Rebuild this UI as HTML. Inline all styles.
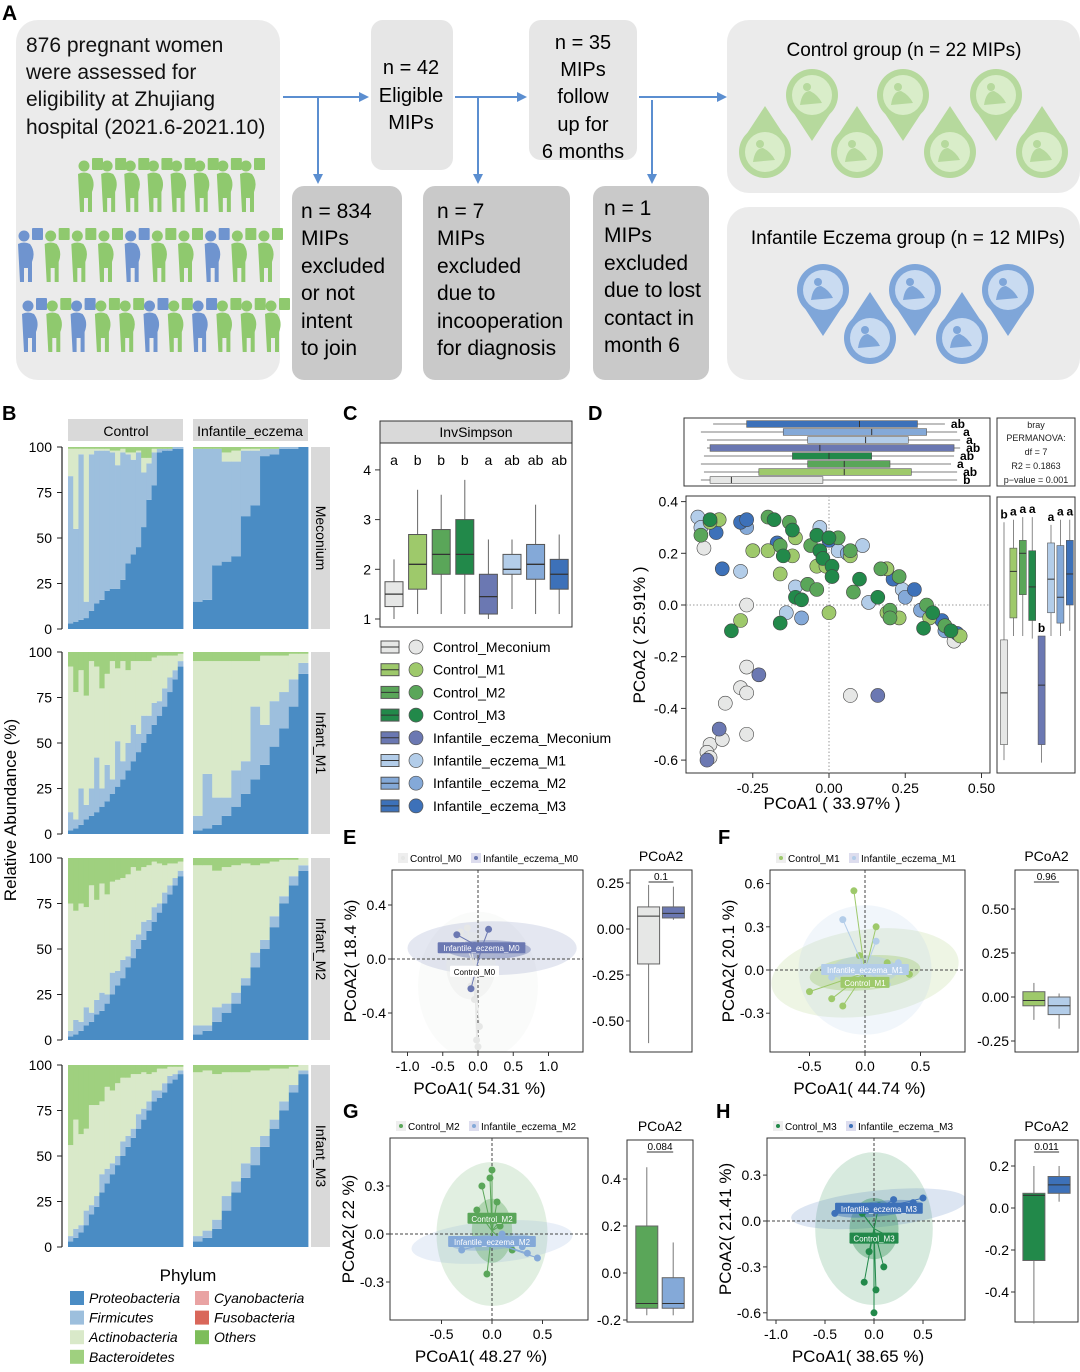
<!DOCTYPE html>
<html><head><meta charset="utf-8"><style>
body{margin:0;background:#fff;}
svg{display:block;font-family:"Liberation Sans",Arial,sans-serif;}
</style></head><body>
<svg id="fig" xmlns="http://www.w3.org/2000/svg" width="1080" height="1372" viewBox="0 0 1080 1372">
<defs><marker id="ah" markerWidth="10" markerHeight="10" refX="8" refY="5" orient="auto" markerUnits="userSpaceOnUse"><path d="M0,0 L10,5 L0,10 z" fill="#5b8ed0"/></marker></defs>
<g id="panelA">
<text x="2" y="20" font-size="21" font-weight="bold">A</text>
<rect x="16" y="20" width="264" height="360" rx="22" fill="#ebebeb"/>
<g font-size="21" fill="#111">
<text x="26" y="52">876 pregnant women</text><text x="26" y="79">were assessed for</text><text x="26" y="106">eligibility at Zhujiang</text><text x="26" y="134">hospital (2021.6-2021.10)</text></g>
<g id="people"></g>
<rect x="371" y="20" width="82" height="150" rx="12" fill="#e6e6e6"/>
<g font-size="20" text-anchor="middle"><text x="411" y="74">n = 42</text><text x="411" y="102">Eligible</text><text x="411" y="129">MIPs</text></g>
<rect x="529" y="20" width="108" height="140" rx="12" fill="#e6e6e6"/>
<g font-size="20" text-anchor="middle"><text x="583" y="49">n = 35</text><text x="583" y="76">MIPs</text><text x="583" y="103">follow</text><text x="583" y="131">up for</text><text x="583" y="158">6 months</text></g>
<rect x="292" y="186" width="110" height="194" rx="12" fill="#c9c9c9"/>
<g font-size="21"><text x="301" y="218">n = 834</text><text x="301" y="245">MIPs</text><text x="301" y="273">excluded</text><text x="301" y="300">or not</text><text x="301" y="328">intent</text><text x="301" y="355">to join</text></g>
<rect x="423" y="186" width="147" height="194" rx="12" fill="#c9c9c9"/>
<g font-size="21"><text x="437" y="218">n = 7</text><text x="437" y="245">MIPs</text><text x="437" y="273">excluded</text><text x="437" y="300">due to</text><text x="437" y="328">incooperation</text><text x="437" y="355">for diagnosis</text></g>
<rect x="593" y="186" width="116" height="194" rx="12" fill="#c9c9c9"/>
<g font-size="21"><text x="604" y="215">n = 1</text><text x="604" y="242">MIPs</text><text x="604" y="270">excluded</text><text x="604" y="297">due to lost</text><text x="604" y="325">contact in</text><text x="604" y="352">month 6</text></g>
<g stroke="#5b8ed0" stroke-width="2" fill="none">
<line x1="283" y1="97" x2="367" y2="97" marker-end="url(#ah)"/><line x1="318" y1="97" x2="318" y2="182" marker-end="url(#ah)"/>
<line x1="455" y1="97" x2="525" y2="97" marker-end="url(#ah)"/><line x1="478" y1="97" x2="478" y2="182" marker-end="url(#ah)"/>
<line x1="639" y1="97" x2="725" y2="97" marker-end="url(#ah)"/><line x1="652" y1="100" x2="652" y2="182" marker-end="url(#ah)"/>
</g>
<rect x="727" y="20" width="353" height="173" rx="22" fill="#ebebeb"/>
<text x="904" y="56" font-size="19" text-anchor="middle">Control group (n = 22 MIPs)</text>
<rect x="727" y="207" width="353" height="173" rx="22" fill="#ebebeb"/>
<text x="908" y="244" font-size="19" text-anchor="middle">Infantile Eczema group (n = 12 MIPs)</text>
<g id="drops"></g>
</g>
<g id="panelB">
<text x="2" y="420" font-size="20" font-weight="bold">B</text>
<text transform="translate(16,810) rotate(-90)" font-size="17" text-anchor="middle">Relative Abundance (%)</text>
<rect x="68" y="419" width="115" height="22" fill="#d9d9d9"/>
<text x="126" y="436" font-size="14" text-anchor="middle">Control</text>
<rect x="193" y="419" width="115" height="22" fill="#d9d9d9"/>
<text x="250" y="436" font-size="14" text-anchor="middle">Infantile_eczema</text>
<g id="bbars"></g>
<text x="188" y="1281" font-size="17" text-anchor="middle">Phylum</text>
<g id="blegend"></g>
</g>
<g id="panelC">
<text x="343" y="420" font-size="20" font-weight="bold">C</text>
<rect x="380" y="421" width="192" height="22" fill="#d9d9d9" stroke="#333" stroke-width="1"/>
<text x="476" y="437" font-size="14" text-anchor="middle">InvSimpson</text>
<g id="cplot"></g>
<g id="clegend"></g>
</g>
<g id="panelD">
<text x="588" y="420" font-size="20" font-weight="bold">D</text>
<g id="dplot"></g>
<text transform="translate(645,635) rotate(-90)" font-size="17" text-anchor="middle">PCoA2 ( 25.91% )</text>
<text x="832" y="809" font-size="17" text-anchor="middle">PCoA1 ( 33.97% )</text>
<rect x="997" y="418" width="78" height="68" fill="#fff" stroke="#333"/>
<g font-size="9" text-anchor="middle" fill="#222"><text x="1036" y="428">bray</text><text x="1036" y="441">PERMANOVA:</text><text x="1036" y="455">df = 7</text><text x="1036" y="469">R2 = 0.1863</text><text x="1036" y="483">p−value = 0.001</text></g>
</g>
<g id="panelsEH"></g>
</svg>
<script>
const NS='http://www.w3.org/2000/svg';
function mk(tag,attrs,parent,name){const e=document.createElementNS(NS,tag);for(const k in attrs)e.setAttribute(k,attrs[k]);


parent.appendChild(e);return e;}
function tx(parent,x,y,s,size,name,anchor,extra){const t=mk('text',Object.assign({x:x,y:y,'font-size':size,'text-anchor':anchor||'start'},extra||{}),parent,name);t.textContent=s;return t;}

// ---------- Panel A decorations ----------
const people=document.getElementById('people');
const rows=[[78,240,8,158],[18,258,10,228],[22,265,11,298]];
const blueIdx=[[],[0,4,7],[0,2,5,7]];
rows.forEach((r,ri)=>{const step=(r[1]-r[0])/(r[2]-1);for(let i=0;i<r[2];i++){const x=r[0]+i*step,y=r[3];const col=blueIdx[ri].includes(i)?'#6f94cf':'#8fc96e';
const g=mk('g',{},people,'woman-icon');
mk('circle',{cx:x+6,cy:y+8,r:5.5,fill:col},g,'woman-head');
mk('path',{d:`M${x},${y+16} q6,-3 12,0 q6,8 2,18 l0,20 l-4,0 l0,-14 l-4,0 l0,14 l-4,0 z`,fill:col},g,'woman-body');
mk('rect',{x:x+14,y:y,width:11,height:12,fill:col,rx:1},g,'woman-sign');}});
const drops=document.getElementById('drops');
function drop(cx,cy,down,fill,inner){const r=26;const g=mk('g',{},drops,'group-marker');
const tip=down?cy+r+20:cy-r-20;mk('path',{d:`M${cx-r*0.7},${cy+(down?r*0.7:-r*0.7)} L${cx},${tip} L${cx+r*0.7},${cy+(down?r*0.7:-r*0.7)} z`,fill:fill},g,'marker-tip');
mk('circle',{cx:cx,cy:cy,r:r,fill:fill},g,'marker-circle');mk('circle',{cx:cx,cy:cy,r:r-6,fill:inner},g,'marker-inner');
mk('circle',{cx:cx-5,cy:cy-8,r:4,fill:fill},g,'mother-head');mk('path',{d:`M${cx-12},${cy+10} q2,-14 10,-14 q8,4 12,12 z`,fill:fill},g,'mother-body');}
[[812,95,1],[903,95,1],[996,95,1],[765,152,0],[857,152,0],[950,152,0],[1042,152,0]].forEach(d=>drop(d[0],d[1],d[2],'#b6d99d','#d9edc9'));
[[823,290,1],[915,290,1],[1008,290,1],[870,338,0],[962,338,0]].forEach(d=>drop(d[0],d[1],d[2],'#7fa6d9','#c9dbf1'));

// ---------- Panel B data ----------
const phyla=['Proteobacteria','Firmicutes','Actinobacteria','Bacteroidetes','Cyanobacteria','Fusobacteria','Others'];
const phylaColors=['#4a8cc4','#9dbfdd','#d9e9c9','#9fd07f','#e9a3a3','#d9675a','#7dbd5a'];
const rowNames=['Meconium','Infant_M1','Infant_M2','Infant_M3'];
const mecCProt=[3,4,5,6,10,14,16,21,22,22,27,36,41,45,56,71,79,97,98,98,99,99];
const mecCFirm=[81,51,91,9,86,84,82,77,75,68,70,60,52,52,30,20,18,2,1,1,1,1];
const mecCAct=[15,44,3,84,3,1,1,1,1,8,2,1,4,1,8,3,2,0,0,0,0,0];
const mecIProt=[15,16,35,37,40,62,68,95,96,99,99,100];
const mecIFirm=[84,83,64,55,52,36,30,4,3,1,1,0];
const mecIAct=[0,0,0,5,6,1,1,0,0,0,0,0];
const m1CProt=[2,3,5,8,10,12,15,18,22,26,30,35,40,45,50,55,60,65,70,78,85,92];
const m1CFirm=[10,5,20,8,15,30,10,20,8,25,10,15,20,10,15,10,12,8,10,8,5,3];
const m1CAct=[80,70,65,60,70,50,55,50,65,40,55,40,35,40,30,30,25,25,18,12,8,4];
const m1IProt=[2,3,5,10,15,22,30,38,48,58,70,88];
const m1IFirm=[8,30,15,10,20,18,40,22,25,20,15,6];
const m1IAct=[85,62,75,75,60,55,25,38,25,20,14,5];
const m2CProt=[2,3,5,8,10,14,16,20,25,30,34,40,45,50,55,60,65,70,75,80,85,90];
const m2CFirm=[3,8,5,10,5,8,10,5,12,8,10,6,10,8,10,6,8,5,6,5,4,3];
const m2CAct=[70,60,65,55,70,55,60,55,50,50,45,45,40,35,30,30,25,22,15,12,8,5];
const m2IProt=[3,5,10,15,20,30,40,50,62,75,85,93];
const m2IFirm=[5,3,8,5,6,4,8,5,6,4,5,3];
const m2IAct=[88,88,75,75,70,63,48,42,30,20,9,4];
const m3CProt=[3,5,8,12,18,22,30,35,40,45,50,55,60,65,70,75,80,82,85,90,92,95];
const m3CFirm=[3,5,4,8,5,6,10,8,6,5,8,6,5,8,6,5,6,4,5,4,3,2];
const m3CAct=[50,60,50,45,55,50,40,45,40,40,35,32,30,22,20,15,10,12,8,5,4,2];
const m3IProt=[3,5,10,20,30,38,45,55,65,75,85,95];
const m3IFirm=[3,4,5,8,6,8,10,6,5,5,4,2];
const m3IAct=[90,88,80,68,60,50,42,36,28,18,10,3];
const yTicksB=[0,25,50,75,100];
const facets=[[[mecCProt,mecCFirm,mecCAct],[mecIProt,mecIFirm,mecIAct]],[[m1CProt,m1CFirm,m1CAct],[m1IProt,m1IFirm,m1IAct]],[[m2CProt,m2CFirm,m2CAct],[m2IProt,m2IFirm,m2IAct]],[[m3CProt,m3CFirm,m3CAct],[m3IProt,m3IFirm,m3IAct]]];
const bb=document.getElementById('bbars');
const rowTops=[447,652,858,1065],rowH=182;
facets.forEach((fr,ri)=>{const top=rowTops[ri];const ys=v=>top+rowH-v/100*rowH;
mk('line',{x1:62,y1:ys(0),x2:62,y2:ys(100),stroke:'#222','stroke-width':1.2},bb,'b-y-axis');
yTicksB.forEach(t=>{mk('line',{x1:57,y1:ys(t),x2:62,y2:ys(t),stroke:'#222'},bb,'b-y-tick');tx(bb,52,ys(t)+5,String(t),14,'b-y-tick-label','end');});
fr.forEach((f,fi)=>{const x0=fi?193:68,w=115;const n=f[0].length,bw=w/n;
for(let i=0;i<n;i++){const vals=[f[0][i],f[1][i],f[2][i]];const rest=Math.max(0,100-vals[0]-vals[1]-vals[2]);vals.push(rest);let acc=0;
vals.forEach((v,k)=>{if(v<=0)return;mk('rect',{x:x0+i*bw,y:ys(acc+v),width:bw+0.4,height:v/100*rowH,fill:phylaColors[k]},bb,'bar-'+phyla[k].toLowerCase());acc+=v;});}});
mk('rect',{x:311,y:top,width:19,height:rowH,fill:'#d9d9d9'},bb,'strip-'+rowNames[ri].toLowerCase());
tx(bb,0,0,rowNames[ri],14,'strip-row-text','middle',{transform:`translate(316,${top+rowH/2}) rotate(90)`});});
const bl=document.getElementById('blegend');
[[0,0],[1,0],[2,0],[3,0],[4,1],[5,1],[6,1]].forEach((p,i)=>{const r=p[1]?i-4:i;const x=p[1]?195:70,y=1291+r*19.6;
mk('rect',{x:x,y:y,width:14,height:14,fill:phylaColors[p[0]]},bl,'legend-swatch');tx(bl,x+19,y+12,phyla[p[0]],14,'legend-entry','start',{'font-style':'italic'});});

// ---------- Panel C ----------
const groups=['Control_Meconium','Control_M1','Control_M2','Control_M3','Infantile_eczema_Meconium','Infantile_eczema_M1','Infantile_eczema_M2','Infantile_eczema_M3'];
const gColors=['#e6e7e6','#9ec96b','#5aa659','#22894a','#6b78b2','#b3cde9','#84a9d8','#3d71b9'];
const invLo=[1.0,1.1,1.1,1.1,1.0,1.2,1.1,1.1];
const invQ1=[1.25,1.6,1.9,1.9,1.1,1.9,1.8,1.6];
const invMed=[1.5,2.1,2.3,2.3,1.45,2.0,2.1,1.9];
const invQ3=[1.75,2.7,2.8,3.0,1.9,2.3,2.5,2.2];
const invHi=[2.2,3.6,3.5,3.8,2.6,2.6,3.3,2.7];
const invLetters=['a','b','b','b','a','ab','ab','ab'];
const invTicks=[1,2,3,4];
const cp=document.getElementById('cplot');
const cy=v=>619-(v-1)*49.7,cx=i=>394+i*23.6;
mk('rect',{x:380,y:443,width:192,height:184,fill:'#fff',stroke:'#333'},cp,'c-plot-frame');
invTicks.forEach(t=>{mk('line',{x1:375,y1:cy(t),x2:380,y2:cy(t),stroke:'#333'},cp,'c-y-tick');tx(cp,371,cy(t)+5,String(t),14,'c-y-tick-label','end');});
groups.forEach((g,i)=>{const x=cx(i);
mk('line',{x1:x,y1:cy(invLo[i]),x2:x,y2:cy(invHi[i]),stroke:'#666'},cp,'c-whisker');
mk('rect',{x:x-9,y:cy(invQ3[i]),width:18,height:cy(invQ1[i])-cy(invQ3[i]),fill:gColors[i],stroke:'#555'},cp,'c-box-'+g);
mk('line',{x1:x-9,y1:cy(invMed[i]),x2:x+9,y2:cy(invMed[i]),stroke:'#333','stroke-width':1.3},cp,'c-median');
tx(cp,x,465,invLetters[i],14,'c-sig-letter','middle');});
const cl=document.getElementById('clegend');
groups.forEach((g,i)=>{const y=647+i*22.7;
mk('rect',{x:381,y:y-6,width:18,height:12,fill:gColors[i],stroke:'#555'},cl,'legend-box-swatch');
mk('line',{x1:381,y1:y,x2:399,y2:y,stroke:'#333'},cl,'legend-box-median');
mk('circle',{cx:416,cy:y,r:7,fill:gColors[i],stroke:'#555','stroke-width':0.7},cl,'legend-point-swatch');
tx(cl,433,y+5,g,14,'legend-entry');});

// ---------- Panel D ----------
const ptX=[-0.41,-0.27,-0.27,-0.29,-0.27,-0.34,-0.27,-0.39,-0.35,-0.40,-0.39,0.07,0.41,
-0.23,-0.36,-0.40,0.16,
-0.43,-0.42,-0.03,-0.29,-0.11,-0.14,0.11,0.03,0.13,0.24,0.19,
-0.27,-0.09,0.25,0.30,0.06,0.38,
-0.29,-0.27,-0.37,-0.35,-0.17,0.00,0.28,0.21,0.37,0.42,
-0.36,-0.39,-0.11,-0.25,-0.20,-0.12,-0.16,-0.04,-0.01,0.00,-0.29,0.23,0.19,0.33,0.19,0.43,0.07,
-0.42,-0.20,-0.13,-0.07,-0.04,0.08,0.03,0.07,0.17,0.20,0.20,0.23,0.32,-0.16,-0.06,0.38,
-0.39,-0.18,-0.12,-0.04,0.00,-0.03,-0.02,0.01,0.01,0.10,0.16,-0.11,-0.09,-0.16,-0.32,-0.15,0.31,0.34,0.40];
const ptY=[0.22,0,-0.24,-0.32,-0.34,-0.38,-0.50,-0.54,-0.52,-0.57,-0.59,-0.35,-0.14,
-0.27,-0.48,-0.60,-0.35,
0.34,0.30,0.30,0.13,0.07,-0.03,0.23,0.21,0.01,0.06,0.14,
0.30,-0.05,0.03,-0.02,0.20,-0.10,
0.32,0.33,0.28,0.14,0.24,0.25,0.06,0.10,-0.06,-0.11,
0.33,0.32,0.26,0.21,0.21,0.19,0.12,0.15,0.15,-0.03,-0.06,-0.05,-0.03,-0.05,0.14,-0.12,0.19,
0.27,0.34,0.32,0.08,0.06,0.05,0.26,0.21,0.14,-0.02,-0.05,0.11,0.00,0.23,0.23,-0.08,
0.33,0.33,0.29,0.27,0.26,0.21,0.18,0.15,0.11,0.10,0.03,0.03,0.02,-0.07,-0.10,0.19,-0.09,-0.03,-0.10];
const ptG=[0,0,0,0,0,0,0,0,0,0,0,0,0, 4,4,4,4, 5,5,5,5,5,5,5,5,5,5,5, 6,6,6,6,6,6, 7,7,7,7,7,7,7,7,7,7,
1,1,1,1,1,1,1,1,1,1,1,1,1,1,1,1,1, 2,2,2,2,2,2,2,2,2,2,2,2,2,2,2,2, 3,3,3,3,3,3,3,3,3,3,3,3,3,3,3,3,3,3,3];
const dXTicks=[-0.25,0,0.25,0.5],dXLabels=['-0.25','0.00','0.25','0.50'];
const dYTicks=[0.4,0.2,0,-0.2,-0.4,-0.6],dYLabels=['0.4','0.2','0.0','-0.2','-0.4','-0.6'];
const p1Lo=[-0.42,-0.41,-0.42,-0.41,-0.40,-0.40,-0.42,-0.38];
const p1Q1=[-0.39,-0.23,-0.07,-0.12,-0.39,-0.07,-0.15,-0.27];
const p1Med=[-0.32,0.05,0.05,0.0,-0.03,0.12,0.14,0.10];
const p1Q3=[-0.02,0.27,0.20,0.14,0.41,0.26,0.32,0.29];
const p1Hi=[0.42,0.42,0.40,0.41,0.43,0.43,0.42,0.38];
const p1Letters=['b','ab','a','ab','ab','a','a','ab'];
const p2Lo=[-0.60,-0.12,-0.12,-0.13,-0.61,-0.12,-0.12,-0.10];
const p2Q1=[-0.54,-0.05,0.04,-0.06,-0.54,-0.03,-0.07,0.0];
const p2Med=[-0.34,0.13,0.20,0.07,-0.31,0.10,0.03,0.12];
const p2Q3=[-0.135,0.22,0.25,0.21,-0.12,0.24,0.23,0.25];
const p2Hi=[0.32,0.33,0.34,0.34,-0.12,0.31,0.33,0.33];
const p2Letters=['b','a','a','a','b','a','a','a'];
const dp=document.getElementById('dplot');
const dx=v=>829+v*305,dy=v=>605-v*258.5;
mk('rect',{x:686,y:496,width:304,height:277,fill:'#fff',stroke:'#333'},dp,'d-plot-frame');
mk('line',{x1:dx(0),y1:496,x2:dx(0),y2:773,stroke:'#999','stroke-dasharray':'1.5,2'},dp,'d-zero-x');
mk('line',{x1:686,y1:dy(0),x2:990,y2:dy(0),stroke:'#999','stroke-dasharray':'1.5,2'},dp,'d-zero-y');
dXTicks.forEach((t,i)=>{mk('line',{x1:dx(t),y1:773,x2:dx(t),y2:778,stroke:'#333'},dp,'d-x-tick');tx(dp,dx(t),793,dXLabels[i],14,'d-x-tick-label','middle');});
dYTicks.forEach((t,i)=>{mk('line',{x1:681,y1:dy(t),x2:686,y2:dy(t),stroke:'#333'},dp,'d-y-tick');tx(dp,678,dy(t)+5,dYLabels[i],14,'d-y-tick-label','end');});
ptX.forEach((v,i)=>{mk('circle',{cx:dx(v),cy:dy(ptY[i]),r:7,fill:gColors[ptG[i]],stroke:'#444','stroke-width':0.6},dp,'d-point-'+groups[ptG[i]]);});
mk('rect',{x:684,y:418,width:306,height:68,fill:'#fff',stroke:'#333'},dp,'d-top-box-frame');
groups.forEach((g,i)=>{const y=480-i*8;
mk('line',{x1:dx(p1Lo[i]),y1:y,x2:dx(p1Hi[i]),y2:y,stroke:'#555','stroke-width':0.7},dp,'d-top-whisker');
mk('rect',{x:dx(p1Q1[i]),y:y-3.3,width:dx(p1Q3[i])-dx(p1Q1[i]),height:6.6,fill:gColors[i],stroke:'#555','stroke-width':0.6},dp,'d-top-box-'+g);
mk('line',{x1:dx(p1Med[i]),y1:y-3.3,x2:dx(p1Med[i]),y2:y+3.3,stroke:'#333'},dp,'d-top-median');
tx(dp,dx(p1Hi[i])+6,y+4,p1Letters[i],12,'d-top-sig-letter','start',{'font-weight':'bold'});});
mk('rect',{x:997,y:497,width:78,height:276,fill:'#fff',stroke:'#333'},dp,'d-side-box-frame');
groups.forEach((g,i)=>{const x=1004+i*9.4;
mk('line',{x1:x,y1:dy(p2Lo[i]),x2:x,y2:dy(p2Hi[i]),stroke:'#555','stroke-width':0.7},dp,'d-side-whisker');
mk('rect',{x:x-3.5,y:dy(p2Q3[i]),width:7,height:dy(p2Q1[i])-dy(p2Q3[i]),fill:gColors[i],stroke:'#555','stroke-width':0.6},dp,'d-side-box-'+g);
mk('line',{x1:x-3.5,y1:dy(p2Med[i]),x2:x+3.5,y2:dy(p2Med[i]),stroke:'#333'},dp,'d-side-median');
tx(dp,x,dy(p2Hi[i])-4,p2Letters[i],12,'d-side-sig-letter','middle',{'font-weight':'bold'});});

// ---------- Panels E-H ----------
const ehPanels=[
{L:'E',lx:343,ly:844,c1:'#e6e7e6',c2:'#6b78b2',n1:'Control_M0',n2:'Infantile_eczema_M0',fx:392,fy:870,fw:191,fh:182,x0:478,kx:70.5,y0:959,ky:-135,
 xt:[-1,-0.5,0,0.5,1],xl:['-1.0','-0.5','0.0','0.5','1.0'],yt:[0.4,0,-0.4],yl:['0.4','0.0','-0.4'],xlab:'PCoA1( 54.31 %)',ylab:'PCoA2( 18.4 %)',
 bx:630,by:870,bw:62,bh:182,b0:929,bk:-184,bt:[0.25,0,-0.25,-0.5],btl:['0.25','0.00','-0.25','-0.50'],p:'0.1'},
{L:'F',lx:718,ly:844,c1:'#9ec96b',c2:'#b3cde9',n1:'Control_M1',n2:'Infantile_eczema_M1',fx:770,fy:870,fw:195,fh:182,x0:865,kx:111,y0:970,ky:-144,
 xt:[-0.5,0,0.5],xl:['-0.5','0.0','0.5'],yt:[0.6,0.3,0,-0.3],yl:['0.6','0.3','0.0','-0.3'],xlab:'PCoA1( 44.74 %)',ylab:'PCoA2( 20.1 %)',
 bx:1015,by:870,bw:63,bh:182,b0:997,bk:-176,bt:[0.5,0.25,0,-0.25],btl:['0.50','0.25','0.00','-0.25'],p:'0.96'},
{L:'G',lx:343,ly:1118,c1:'#5aa659',c2:'#84a9d8',n1:'Control_M2',n2:'Infantile_eczema_M2',fx:390,fy:1138,fw:198,fh:182,x0:492,kx:101,y0:1234,ky:-160,
 xt:[-0.5,0,0.5],xl:['-0.5','0.0','0.5'],yt:[0.3,0,-0.3],yl:['0.3','0.0','-0.3'],xlab:'PCoA1( 48.27 %)',ylab:'PCoA2( 22 %)',
 bx:627,by:1140,bw:66,bh:182,b0:1273,bk:-235,bt:[0.4,0.2,0,-0.2],btl:['0.4','0.2','0.0','-0.2'],p:'0.084'},
{L:'H',lx:716,ly:1118,c1:'#22894a',c2:'#3d71b9',n1:'Control_M3',n2:'Infantile_eczema_M3',fx:767,fy:1138,fw:198,fh:182,x0:874,kx:98,y0:1221,ky:-153,
 xt:[-1,-0.5,0,0.5],xl:['-1.0','-0.5','0.0','0.5'],yt:[0.3,0,-0.3,-0.6],yl:['0.3','0.0','-0.3','-0.6'],xlab:'PCoA1( 38.65 %)',ylab:'PCoA2( 21.41 %)',
 bx:1015,by:1140,bw:63,bh:182,b0:1208,bk:-210,bt:[0.2,0,-0.2,-0.4],btl:['0.2','0.0','-0.2','-0.4'],p:'0.011'}];
// ellipses [cx,cy,rx,ry,angleDeg] in data units
const ellOuter1=[[0,-0.2,0.85,0.55,0],[0,-0.02,0.85,0.3,-8],[0,0,0.55,0.45,0],[0,-0.05,0.6,0.5,0]];
const ellOuter2=[[0.2,0.08,1.2,0.2,0],[0,0,0.6,0.45,0],[0,-0.05,0.8,0.13,-5],[0.05,0.08,0.9,0.12,-6]];
const ellInner1=[[-0.1,-0.05,0.35,0.25,0],[0,-0.02,0.5,0.12,-5],[0,0.02,0.2,0.2,0],[0,-0.05,0.25,0.2,0]];
const ellInner2=[[0.15,0.07,0.6,0.07,0],[0,0,0.3,0.1,0],[0,-0.05,0.4,0.05,-5],[0.05,0.08,0.45,0.05,-6]];
const cen1=[[-0.05,-0.05],[0,-0.02],[0,0.02],[0,-0.05]];
const cen2=[[0.05,0.08],[0,0],[0,-0.05],[0.05,0.08]];
const g1X=[[-0.05,0.02,-0.1,0.05,-0.02,0,-0.25,-0.15],[-0.1,-0.3,-0.5,0.2,0.4,-0.2,0.1,-0.05,0.3],[0,-0.1,0.05,-0.02,0.1,-0.15,0.2,-0.05,0.08],[0,-0.1,0.1,0.05,-0.05,0.15,0.02,-0.12]];
const g1Y=[[-0.3,-0.5,-0.2,-0.1,-0.6,-0.65,0.2,0.23],[0.55,-0.2,-0.15,0.05,-0.03,-0.25,0.3,0.1,0.02],[0.4,0.3,0.2,0.35,0.1,0.15,-0.1,-0.25,0.05],[-0.6,-0.4,-0.3,0.1,-0.2,-0.1,-0.45,0.05]];
const g2X=[[0.15,-0.3,-0.1,-0.05],[-0.2,0.1,0.3,-0.3,0.2],[-0.3,0.3,0.35,-0.2,0.1,0.45],[-0.4,0.3,0.4,-0.2,0.2,0.5]];
const g2Y=[[0.22,0.18,-0.22,0.1],[0.35,0.2,0.05,-0.05,-0.1],[-0.1,-0.08,-0.12,-0.05,0.0,-0.15],[0.05,0.1,0.12,0.09,0.14,0.15]];
const bLo1=[-0.62,-0.13,-0.18,-0.55],bQ11=[-0.19,-0.05,-0.15,-0.25],bMed1=[0.07,-0.02,-0.13,0.06],bQ31=[0.12,0.03,0.2,0.07],bHi1=[0.24,0.08,0.45,0.2];
const bLo2=[0.05,-0.18,-0.18,0.03],bQ12=[0.06,-0.1,-0.15,0.07],bMed2=[0.085,-0.05,-0.13,0.11],bQ32=[0.12,0.0,-0.02,0.15],bHi2=[0.23,0.02,0.13,0.2];
const eh=document.getElementById('panelsEH');
ehPanels.forEach((P,pi)=>{const g=mk('g',{},eh,'panel-'+P.L.toLowerCase());
const X=v=>P.x0+v*P.kx,Y=v=>P.y0+v*P.ky;
tx(g,P.lx,P.ly,P.L,20,'panel-label','start',{'font-weight':'bold'});
mk('rect',{x:P.fx+6,y:P.fy-17,width:10,height:10,fill:'#eee'},g,'legend-swatch-1');mk('circle',{cx:P.fx+11,cy:P.fy-12,r:2,fill:P.c1},g,'legend-dot-1');
tx(g,P.fx+18,P.fy-8,P.n1,10,'legend-entry-1');
const off=P.fx+18+P.n1.length*5.6+5;
mk('rect',{x:off,y:P.fy-17,width:10,height:10,fill:'#dde'},g,'legend-swatch-2');mk('circle',{cx:off+5,cy:P.fy-12,r:2,fill:P.c2},g,'legend-dot-2');
tx(g,off+12,P.fy-8,P.n2,10,'legend-entry-2');
const cl=mk('clipPath',{id:'clip'+pi},g,'clip');mk('rect',{x:P.fx,y:P.fy,width:P.fw,height:P.fh},cl,'clip-rect');
const inner=mk('g',{'clip-path':`url(#clip${pi})`},g,'plot-area');
function ell(e,col,op,name){mk('ellipse',{cx:X(e[0]),cy:Y(e[1]),rx:Math.abs(e[2]*P.kx),ry:Math.abs(e[3]*P.ky),fill:col,'fill-opacity':op,transform:`rotate(${e[4]} ${X(e[0])} ${Y(e[1])})`},inner,name);}
ell(ellOuter1[pi],P.c1,0.18,'ellipse-outer-control');ell(ellOuter2[pi],P.c2,0.18,'ellipse-outer-eczema');
ell(ellInner1[pi],P.c1,0.35,'ellipse-inner-control');ell(ellInner2[pi],P.c2,0.45,'ellipse-inner-eczema');
mk('line',{x1:X(0),y1:P.fy,x2:X(0),y2:P.fy+P.fh,stroke:'#444','stroke-dasharray':'3,2'},inner,'zero-x');
mk('line',{x1:P.fx,y1:Y(0),x2:P.fx+P.fw,y2:Y(0),stroke:'#444','stroke-dasharray':'3,2'},inner,'zero-y');
g1X[pi].forEach((v,i)=>{mk('line',{x1:X(cen1[pi][0]),y1:Y(cen1[pi][1]),x2:X(v),y2:Y(g1Y[pi][i]),stroke:P.c1,'stroke-width':1},inner,'spider-control');mk('circle',{cx:X(v),cy:Y(g1Y[pi][i]),r:3.5,fill:P.c1},inner,'point-control');});
g2X[pi].forEach((v,i)=>{mk('line',{x1:X(cen2[pi][0]),y1:Y(cen2[pi][1]),x2:X(v),y2:Y(g2Y[pi][i]),stroke:P.c2,'stroke-width':1},inner,'spider-eczema');mk('circle',{cx:X(v),cy:Y(g2Y[pi][i]),r:3.5,fill:P.c2},inner,'point-eczema');});
const l2w=P.n2.length*4.3+6;mk('rect',{x:X(cen2[pi][0])-l2w/2,y:Y(cen2[pi][1])-6,width:l2w,height:11,fill:P.c2,rx:1},inner,'label-bg-eczema');
tx(inner,X(cen2[pi][0]),Y(cen2[pi][1])+3,P.n2,8,'centroid-label-eczema','middle',{fill:'#fff'});
const l1w=P.n1.length*4.3+6;const ly1=Y(cen1[pi][1])+(pi===0?6:pi===2?-12:10);
mk('rect',{x:X(cen1[pi][0])-l1w/2,y:ly1-6,width:l1w,height:11,fill:pi===0?'#fff':P.c1,rx:1},inner,'label-bg-control');
tx(inner,X(cen1[pi][0]),ly1+3,P.n1,8,'centroid-label-control','middle',{fill:pi===0?'#000':'#fff'});
mk('rect',{x:P.fx,y:P.fy,width:P.fw,height:P.fh,fill:'none',stroke:'#333'},g,'plot-frame');
P.xt.forEach((t,i)=>{mk('line',{x1:X(t),y1:P.fy+P.fh,x2:X(t),y2:P.fy+P.fh+4,stroke:'#333'},g,'x-tick');tx(g,X(t),P.fy+P.fh+19,P.xl[i],14,'x-tick-label','middle');});
P.yt.forEach((t,i)=>{mk('line',{x1:P.fx-4,y1:Y(t),x2:P.fx,y2:Y(t),stroke:'#333'},g,'y-tick');tx(g,P.fx-6,Y(t)+5,P.yl[i],14,'y-tick-label','end');});
tx(g,P.fx+P.fw/2-8,P.fy+P.fh+42,P.xlab,17,'x-axis-title','middle');
tx(g,0,0,P.ylab,17,'y-axis-title','middle',{transform:`translate(${P.fx-36},${P.fy+P.fh/2}) rotate(-90)`});
const B=v=>P.b0+v*P.bk;
mk('rect',{x:P.bx,y:P.by,width:P.bw,height:P.bh,fill:'#fff',stroke:'#333'},g,'box-panel-frame');
tx(g,P.bx+P.bw/2,P.by-9,'PCoA2',14,'box-panel-title','middle');
P.bt.forEach((t,i)=>{mk('line',{x1:P.bx-4,y1:B(t),x2:P.bx,y2:B(t),stroke:'#333'},g,'box-y-tick');tx(g,P.bx-6,B(t)+5,P.btl[i],14,'box-y-tick-label','end');});
[[bLo1,bQ11,bMed1,bQ31,bHi1,P.c1,0.3],[bLo2,bQ12,bMed2,bQ32,bHi2,P.c2,0.7]].forEach((s,k)=>{const x=P.bx+P.bw*s[6];
mk('line',{x1:x,y1:B(s[0][pi]),x2:x,y2:B(s[4][pi]),stroke:'#777'},g,'box-whisker');
mk('rect',{x:x-11,y:B(s[3][pi]),width:22,height:B(s[1][pi])-B(s[3][pi]),fill:s[5],stroke:'#666'},g,'box-'+(k?'eczema':'control'));
mk('line',{x1:x-11,y1:B(s[2][pi]),x2:x+11,y2:B(s[2][pi]),stroke:'#333'},g,'box-median');});
mk('line',{x1:P.bx+P.bw*0.3,y1:P.by+12,x2:P.bx+P.bw*0.7,y2:P.by+12,stroke:'#333'},g,'p-bracket');
tx(g,P.bx+P.bw/2,P.by+10,P.p,10,'p-value-label','middle');
});
</script>
</body></html>
